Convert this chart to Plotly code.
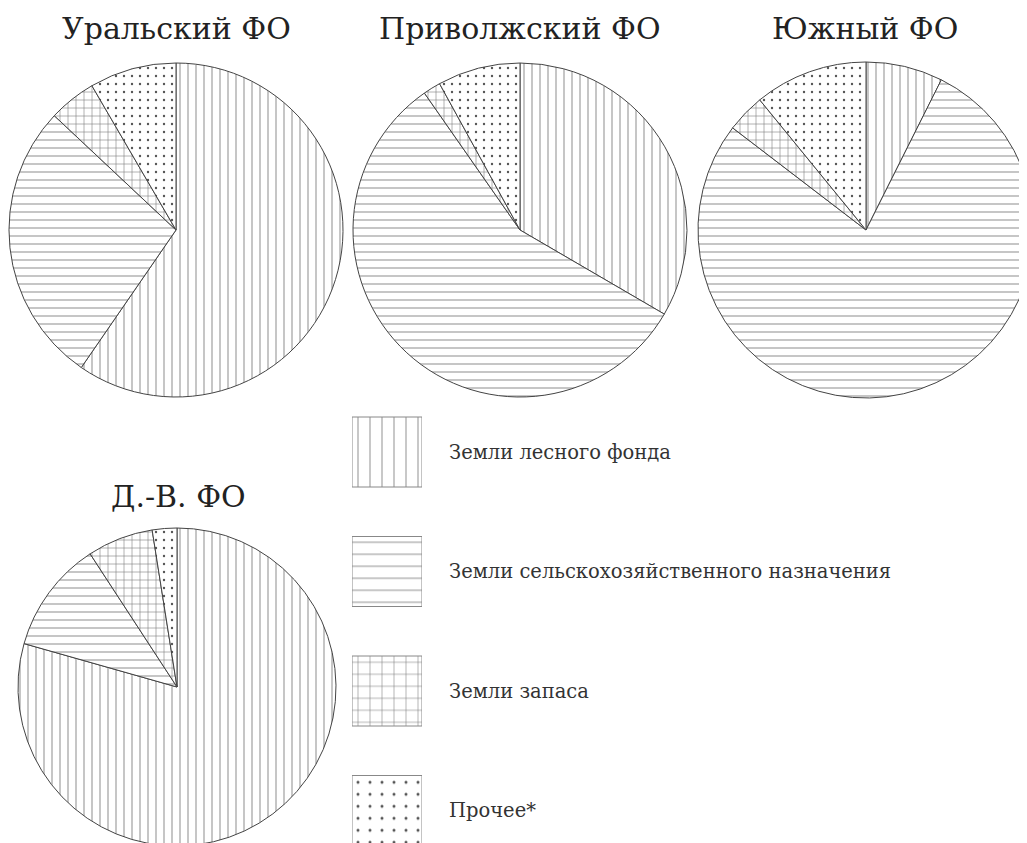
import plotly.graph_objects as go

# доли категорий земель (%), порядок по часовой стрелке от 12 часов
categories = ["Земли лесного фонда", "Земли сельскохозяйственного назначения",
              "Земли запаса", "Прочее*"]
uralsky = [59.6, 27.4, 4.6, 8.4]
privolzhsky = [33.4, 56.9, 1.7, 8.0]
yuzhny = [7.4, 78.0, 3.7, 10.9]
dv = [79.4, 11.4, 6.7, 2.5]
regions = ["Уральский ФО", "Приволжский ФО", "Южный ФО", "Д.-В. ФО"]
legend_x = [1, 1, 1, 1]

W, H = 1027, 843
OFF = 8  # отступ body в html
shapes = ["|", "-", "+", "."]
pat_colors = ["#999", "#999", "#777", "#555"]
serif = "DejaVu Serif, Liberation Serif, serif"


def dom(cx, cy, r):
    cx, cy = cx - OFF, cy - OFF
    return dict(x=[max(0, (cx - r) / W), min(1, (cx + r) / W)],
                y=[max(0, 1 - (cy + r) / H), min(1, 1 - (cy - r) / H)])


# центр и радиус каждого круга (координаты страницы)
layout_pies = [(176, 230, 167), (520, 230, 167), (866, 230, 168), (177, 687, 159)]
title_pos = [(176, 28), (520, 28), (865, 28), (178, 496)]

fig = go.Figure()
for name, vals, (cx, cy, r) in zip(regions, [uralsky, privolzhsky, yuzhny, dv], layout_pies):
    fig.add_trace(go.Pie(
        labels=categories, values=vals, name=name,
        sort=False, direction="clockwise", rotation=0,
        textinfo="none", hoverinfo="label+percent", showlegend=False,
        domain=dom(cx, cy, r),
        marker=dict(colors=["white"] * 4,
                    line=dict(color="#444", width=1),
                    pattern=dict(shape=shapes, size=8, solidity=[0.14, 0.14, 0.14, 0.07],
                                 fgcolor=pat_colors, bgcolor="white", fillmode="replace")),
    ))

# легенда — столбики с той же штриховкой
fig.add_trace(go.Bar(
    x=legend_x, y=categories, orientation="h", width=70 / 119.5,
    xaxis="x", yaxis="y", showlegend=False, hoverinfo="y",
    marker=dict(color="white", line=dict(color="#888", width=1),
                pattern=dict(shape=shapes, size=12, solidity=[0.09, 0.09, 0.09, 0.05],
                             fgcolor=pat_colors, bgcolor="white", fillmode="replace")),
))

annotations = []
for name, (tx, ty) in zip(regions, title_pos):
    annotations.append(dict(text=name, x=(tx - OFF) / W, y=1 - (ty - OFF) / H,
                            xref="paper", yref="paper",
                            showarrow=False, xanchor="center", yanchor="middle",
                            font=dict(family=serif, size=30, color="#222")))

leg_top = 452 - OFF
fig.update_layout(
    width=W, height=H,
    margin=dict(l=0, r=0, t=0, b=0),
    paper_bgcolor="white", plot_bgcolor="white",
    annotations=annotations,
    xaxis=dict(domain=[(352 - OFF) / W, (422 - OFF) / W], range=[0, 1],
               visible=False, fixedrange=True),
    yaxis=dict(domain=[0, 1 - (leg_top - 59.75) / H], range=[(H - leg_top) / 119.5, -0.5],
               side="right", showgrid=False, zeroline=False, showline=False,
               ticks="", ticklabelstandoff=26, automargin=False,
               tickfont=dict(family=serif, size=19.5, color="#333")),
)

fig.write_html("out.html")
